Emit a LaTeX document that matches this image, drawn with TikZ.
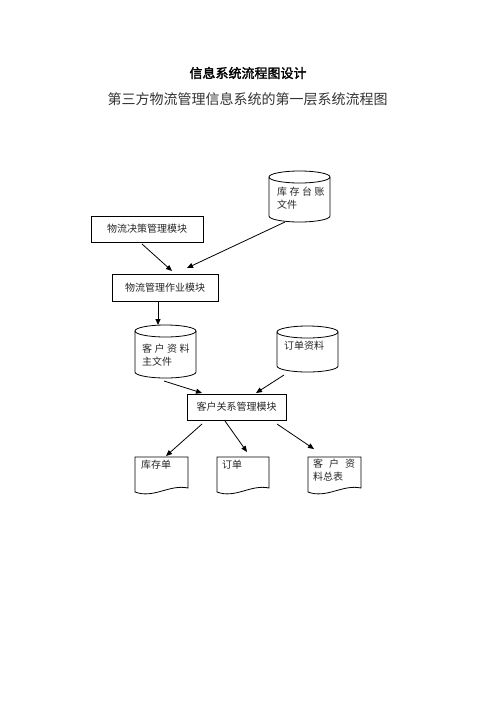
\documentclass[tikz,border=0pt]{standalone}
\usepackage{fontspec}
\setmainfont{Liberation Serif}
\newfontfamily\cjk{Noto Sans CJK SC}
\newfontfamily\cjkbold[FakeBold=2]{Noto Sans CJK SC}
\usetikzlibrary{arrows.meta}
\newcommand{\gp}{\hspace{2.5pt}}
\newcommand{\cylshape}[4]{% x1 x2 ytop ybot
  \pgfmathsetmacro{\rx}{(#2-#1)/2}
  \pgfmathsetmacro{\cx}{(#1+#2)/2}
  \draw[shapeline] (#1,-#3-6) -- (#1,-#4+6) arc[start angle=180,end angle=360,x radius=\rx,y radius=6] -- (#2,-#3-6);
  \draw[shapeline] (\cx,-#3-6) ellipse[x radius=\rx,y radius=6];
}
\newcommand{\docshape}[3]{% x1 x2 ytop
  \pgfmathsetmacro{\w}{#2-#1}
  \draw[shapeline] (#1,-#3) -- (#2,-#3) -- (#2,-#3-31)
    .. controls (#2-0.35*\w,-#3-27) and (#1+0.35*\w,-#3-42) .. (#1,-#3-35) -- cycle;
}
\begin{document}
\begin{tikzpicture}[x=1pt,y=1pt,
  shapeline/.style={draw=black,line width=0.8pt},
  boxnode/.style={draw=black,line width=0.8pt,inner sep=0pt,font=\cjk\fontsize{10}{12}\selectfont,text=black!85},
  txt/.style={inner sep=0pt,anchor=north west,align=left,font=\cjk\fontsize{10}{13}\selectfont,text=black!85},
  arr/.style={line width=0.8pt,-{Triangle[length=6pt,width=5pt]}}]
\useasboundingbox (0,0) rectangle (496,-702);
\fill[white] (0,0) rectangle (496,-702);

% titles
\node[inner sep=0pt,font=\cjkbold\fontsize{13}{15}\selectfont] (title) at (248,-73) {信息系统流程图设计};
\node[inner sep=0pt,font=\cjk\fontsize{14}{16}\selectfont,text=black!80] (subtitle) at (247.5,-99) {第三方物流管理信息系统的第一层系统流程图};

% boxes
\node[boxnode,minimum width=112pt,minimum height=26pt] (b1) at (147,-229) {物流决策管理模块};
\node[boxnode,minimum width=106pt,minimum height=27pt] (b2) at (165,-287.5) {物流管理作业模块};
\node[boxnode,minimum width=99pt,minimum height=26pt] (b3) at (236.5,-407) {客户关系管理模块};

% cylinders
\cylshape{269}{330}{171}{222}
\node[txt] (c1) at (277,-187) {库\gp 存\gp 台\gp 账\\文件};
\cylshape{135}{196}{325}{378}
\node[txt] (c2) at (142,-344) {客\gp 户\gp 资\gp 料\\主文件};
\cylshape{277}{338}{326}{372}
\node[txt] (c3) at (284,-341) {订单资料};

% documents
\docshape{135}{188}{457}
\node[txt] (d1) at (141,-460) {库存单};
\docshape{217}{269}{457}
\node[txt] (d2) at (222,-460) {订单};
\docshape{308}{361}{457}
\node[txt] (d3) at (313,-459) {客\hspace{6pt}户\hspace{6pt}资\\料总表};

% connector end points
\coordinate (a1s) at (142,-244); \coordinate (a1e) at (172,-271);
\coordinate (a2s) at (285,-222); \coordinate (a2e) at (187,-268);
\coordinate (a3s) at (158,-301); \coordinate (a3e) at (158,-325);
\coordinate (a4s) at (164,-381); \coordinate (a4e) at (202,-393);
\coordinate (a5s) at (284,-375); \coordinate (a5e) at (256,-393);
\coordinate (a6s) at (202,-424); \coordinate (a6e) at (166,-456);
\coordinate (a7s) at (225,-421); \coordinate (a7e) at (247,-452);
\coordinate (a8s) at (277,-424); \coordinate (a8e) at (314,-449);

\draw[arr] (a1s) -- (a1e);
\draw[arr] (a2s) -- (a2e);
\draw[arr] (a3s) -- (a3e);
\draw[arr] (a4s) -- (a4e);
\draw[arr] (a5s) -- (a5e);
\draw[arr] (a6s) -- (a6e);
\draw[arr] (a7s) -- (a7e);
\draw[arr] (a8s) -- (a8e);
\end{tikzpicture}
\end{document}
